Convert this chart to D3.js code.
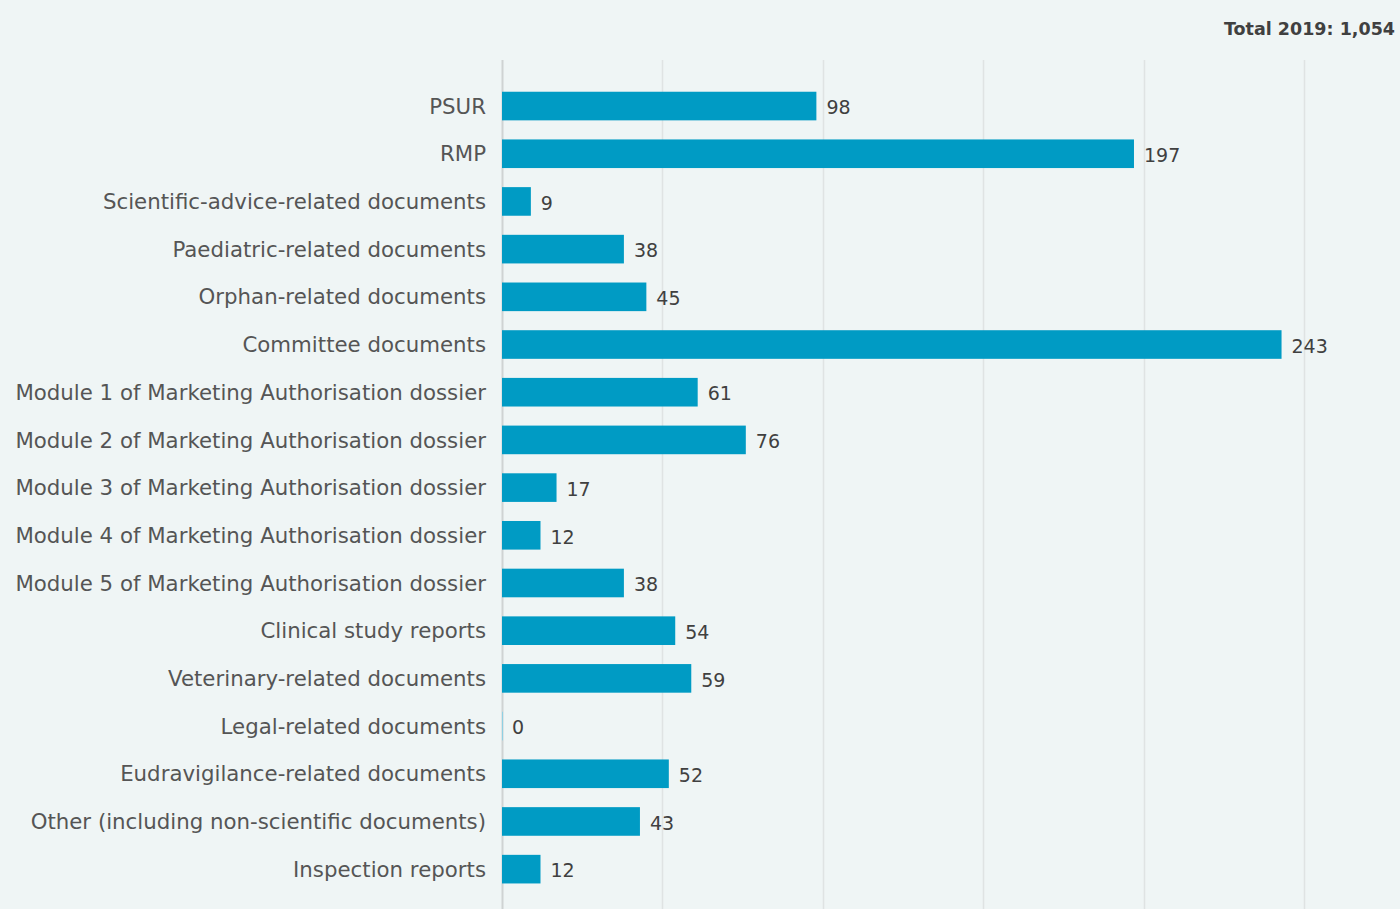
<!DOCTYPE html>
<html><head><meta charset="utf-8">
<script src="https://cdn.jsdelivr.net/npm/d3@7"></script>
<style>html,body{margin:0;padding:0;background:#eff5f5;}svg{display:block;}</style>
</head><body><svg id="c" width="1400" height="909"></svg>
<script>
const categories = ["PSUR","RMP","Scientific-advice-related documents","Paediatric-related documents","Orphan-related documents","Committee documents","Module 1 of Marketing Authorisation dossier","Module 2 of Marketing Authorisation dossier","Module 3 of Marketing Authorisation dossier","Module 4 of Marketing Authorisation dossier","Module 5 of Marketing Authorisation dossier","Clinical study reports","Veterinary-related documents","Legal-related documents","Eudravigilance-related documents","Other (including non-scientific documents)","Inspection reports"];
const values = [98,197,9,38,45,243,61,76,17,12,38,54,59,0,52,43,12];
const xTicks = [0,50,100,150,200,250];
const title = "Total 2019: 1,054";

const svg = d3.select("#c");
const x = d3.scaleLinear().domain([0,250]).range([502,1304]);
const y = d3.scaleBand().domain(categories).range([82.2,893]).paddingInner(0.4).paddingOuter(0.2);

svg.append("rect").attr("width",1400).attr("height",909).attr("fill","#eff5f5");

svg.append("g").selectAll("line").data(xTicks).join("line")
  .attr("x1",d=>Math.round(x(d))+0.5).attr("x2",d=>Math.round(x(d))+0.5)
  .attr("y1",60).attr("y2",909)
  .attr("stroke",d=>d===0?"#cfd3d3":"#dfe3e3").attr("stroke-width",d=>d===0?2:1.5);

svg.append("g").selectAll("rect").data(values).join("rect")
  .attr("x",x(0)).attr("y",(d,i)=>y(categories[i]))
  .attr("width",d=>Math.max(x(d)-x(0),1)).attr("height",y.bandwidth())
  .attr("fill",d=>d===0?"#8fd0e3":"#009bc4");

svg.append("g").selectAll("text").data(categories).join("text")
  .attr("x",486).attr("y",d=>y(d)+y.bandwidth()/2).attr("dy","0.36em")
  .attr("text-anchor","end").attr("font-family","DejaVu Sans, Verdana, sans-serif")
  .attr("font-size",21.3).attr("fill","#555555").text(d=>d);

svg.append("g").selectAll("text").data(values).join("text")
  .attr("x",d=>x(d)+10).attr("y",(d,i)=>y(categories[i])+y.bandwidth()/2+1).attr("dy","0.38em")
  .attr("font-family","DejaVu Sans, Verdana, sans-serif")
  .attr("font-size",19).attr("fill","#404040").text(d=>d);

svg.append("text").attr("x",1395).attr("y",35).attr("text-anchor","end")
  .attr("font-family","DejaVu Sans, Verdana, sans-serif").attr("font-weight","bold")
  .attr("font-size",17.5).attr("fill","#404040").text(title);
</script></body></html>
